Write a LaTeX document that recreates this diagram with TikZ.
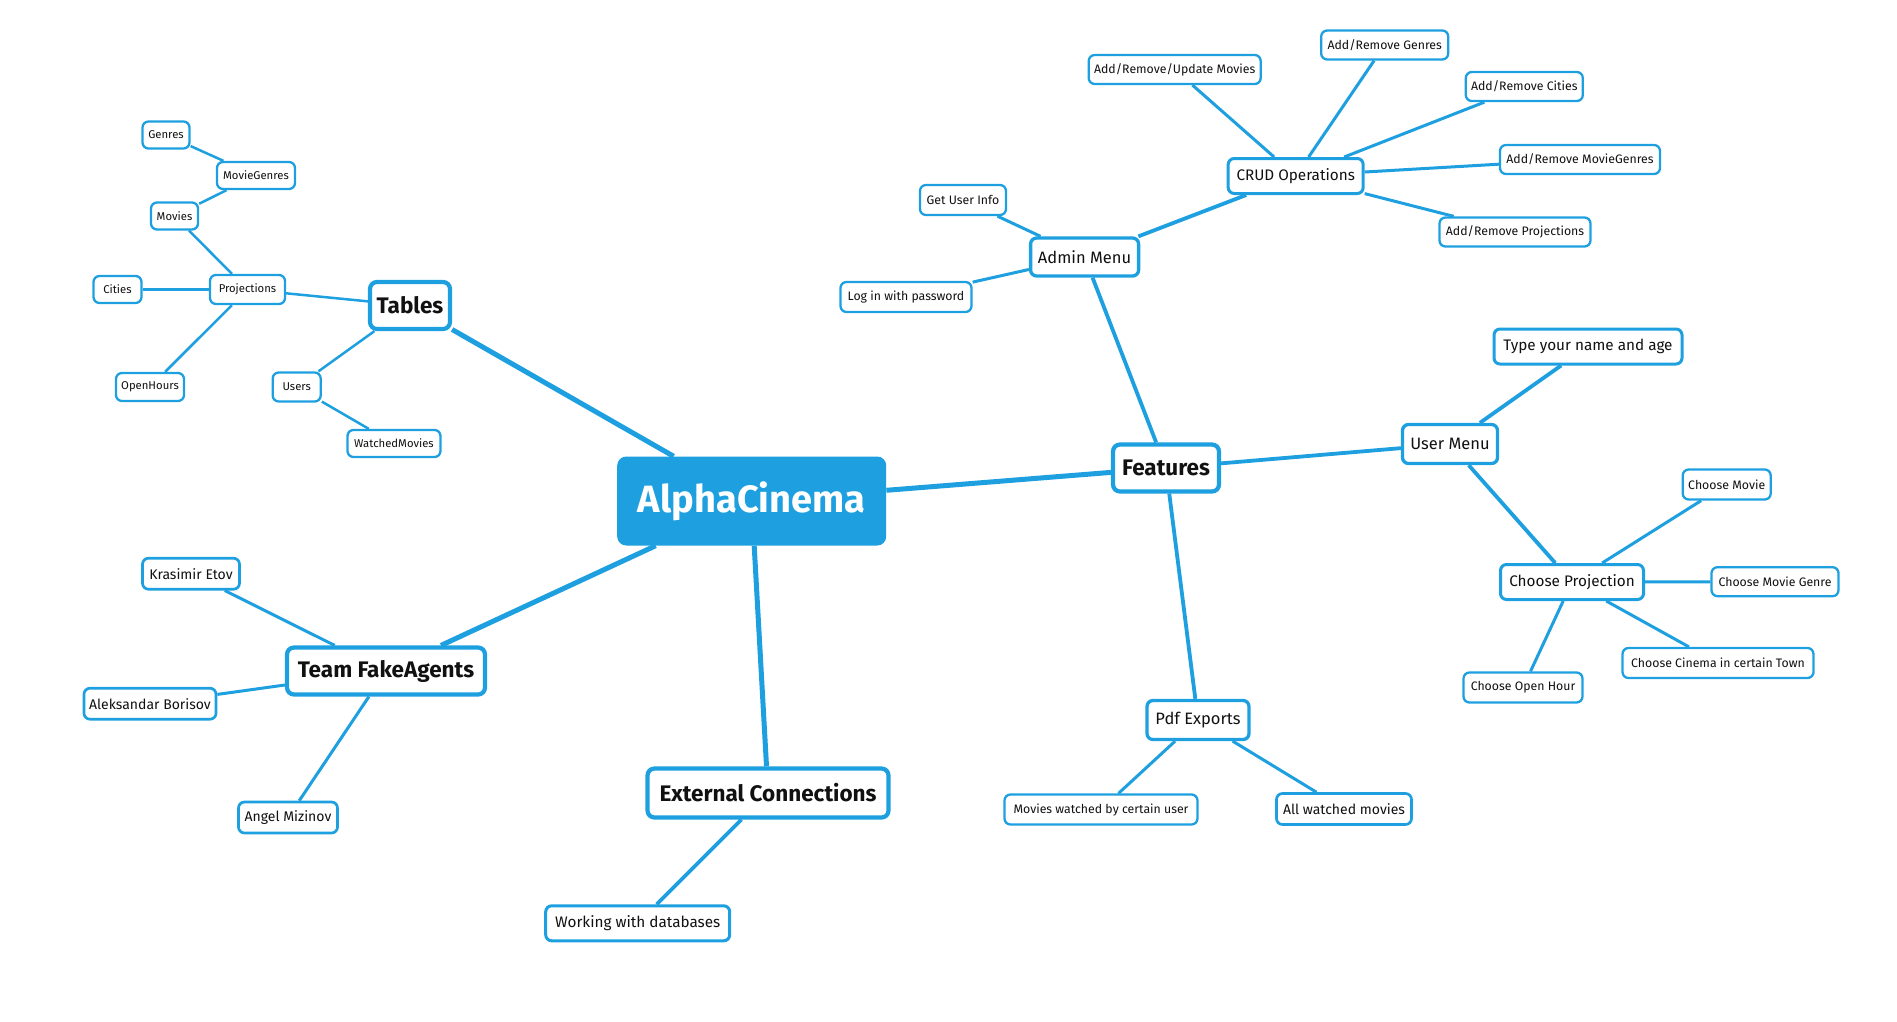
\documentclass[tikz,border=0pt]{standalone}
\usepackage{fontspec}
\setmainfont{Fira Sans}
\definecolor{mmblue}{RGB}{30,160,224}
\definecolor{mmtext}{RGB}{17,17,17}
\tikzset{
  base/.style={draw=mmblue, fill=white, text=mmtext, rounded corners=6pt, inner xsep=2pt, inner ysep=1pt, align=center},
  sz/.style 2 args={minimum width=#1pt, minimum height=#2pt},
  rootbox/.style={fill=mmblue, text=white, rounded corners=9pt, font=\bfseries\fontsize{38}{42}\selectfont, inner sep=2pt},
  lone/.style={base, line width=4.2pt, rounded corners=7pt, font=\bfseries\fontsize{22.5}{26}\selectfont},
  ltwo/.style={base, line width=3.3pt, font=\fontsize{16.5}{19}\selectfont},
  lthree/.style={base, line width=3pt, font=\fontsize{15.3}{18}\selectfont},
  lname/.style={base, line width=2.7pt, font=\fontsize{14}{17}\selectfont},
  lsmall/.style={base, line width=2.3pt, font=\fontsize{12.3}{15}\selectfont},
  ltiny/.style={base, line width=2.3pt, font=\fontsize{11.3}{14}\selectfont},
  eroot/.style={draw=mmblue, line width=5pt},
  eone/.style={draw=mmblue, line width=3.8pt},
  etwo/.style={draw=mmblue, line width=3pt},
  ethree/.style={draw=mmblue, line width=2.5pt},
}
\begin{document}
\begin{tikzpicture}[x=1pt,y=-1pt]
\useasboundingbox[fill=white] (0,0) rectangle (1897,1021);
% root
\node[rootbox, sz={269}{89}] (root) at (751.7,501) {AlphaCinema};
% level 1
\node[lone, sz={80}{47}] (tables) at (410,305.5) {Tables};
\node[lone, sz={106}{47}] (features) at (1166,468) {Features};
\node[lone, sz={198}{47}] (team) at (386,671) {Team FakeAgents};
\node[lone, sz={241}{49}] (ext) at (768,793) {External Connections};
% tables subtree
\node[ltiny, sz={47}{27}] (genres) at (166,135) {Genres};
\node[ltiny, sz={78}{27}] (moviegenres) at (256,175.5) {MovieGenres};
\node[ltiny, sz={47}{27}] (movies) at (174.5,216) {Movies};
\node[ltiny, sz={48}{27}] (cities) at (117.5,289.5) {Cities};
\node[ltiny, sz={75}{29}] (projections) at (247.5,289.5) {Projections};
\node[ltiny, sz={68}{28}] (openhours) at (150,387) {OpenHours};
\node[ltiny, sz={48}{29}] (users) at (296.7,387) {Users};
\node[ltiny, sz={93}{27}] (watched) at (394,443.5) {WatchedMovies};
% features subtree
\node[ltwo, sz={108}{38}] (admin) at (1084.6,257) {Admin Menu};
\node[ltwo, sz={95}{39}] (usermenu) at (1450,444) {User Menu};
\node[ltwo, sz={102}{39}] (pdf) at (1198,720) {Pdf Exports};
\node[lsmall, sz={86}{30}] (getuser) at (963,200) {Get User Info};
\node[lsmall, sz={131}{30}] (login) at (906,297) {Log in with password};
\node[lthree, sz={135}{35}] (crud) at (1295.7,176) {CRUD Operations};
\node[lsmall, sz={172}{29}] (arum) at (1174.7,69.5) {Add/Remove/Update Movies};
\node[lsmall, sz={127}{29}] (arg) at (1384.7,45) {Add/Remove Genres};
\node[lsmall, sz={117}{29}] (arc) at (1524.3,86.5) {Add/Remove Cities};
\node[lsmall, sz={160}{29}] (armg) at (1580,159.5) {Add/Remove MovieGenres};
\node[lsmall, sz={151}{29}] (arp) at (1515,232) {Add/Remove Projections};
\node[lthree, sz={188}{35}] (typename) at (1588,346.5) {Type your name and age};
\node[lthree, sz={143}{35}] (chproj) at (1572,582) {Choose Projection};
\node[lsmall, sz={88}{30}] (chmovie) at (1726.7,484.5) {Choose Movie};
\node[lsmall, sz={127}{29}] (chgenre) at (1775,581.7) {Choose Movie Genre};
\node[lsmall, sz={191}{30}] (chcinema) at (1718,663) {Choose Cinema in certain Town};
\node[lsmall, sz={119}{30}] (chhour) at (1523,687.5) {Choose Open Hour};
\node[lsmall, sz={193}{30}] (mwcu) at (1101,809.5) {Movies watched by certain user};
\node[lname, sz={135}{31}] (awm) at (1344,809) {All watched movies};
% team subtree
\node[lname, sz={97}{31}] (krasimir) at (191,573.7) {Krasimir Etov};
\node[lname, sz={132}{31}] (aleks) at (150,703.7) {Aleksandar Borisov};
\node[lname, sz={99}{31}] (angel) at (288,817.5) {Angel Mizinov};
% external subtree
\node[lthree, sz={184}{35}] (working) at (637.7,923.3) {Working with databases};
% connectors
\draw[eroot] (root) -- (tables);
\draw[eroot] (root) -- (features);
\draw[eroot] (root) -- (team);
\draw[eroot] (root) -- (ext);
\draw[ethree] (tables) -- (projections);
\draw[ethree] (tables) -- (users);
\draw[ethree] (projections) -- (movies);
\draw[ethree] (projections) -- (cities);
\draw[ethree] (projections) -- (openhours);
\draw[ethree] (movies) -- (moviegenres);
\draw[ethree] (moviegenres) -- (genres);
\draw[ethree] (users) -- (watched);
\draw[eone] (features) -- (admin);
\draw[eone] (features) -- (usermenu);
\draw[eone] (features) -- (pdf);
\draw[etwo] (admin) -- (getuser);
\draw[etwo] (admin) -- (login);
\draw[eone] (admin) -- (crud);
\draw[etwo] (crud) -- (arum);
\draw[etwo] (crud) -- (arg);
\draw[etwo] (crud) -- (arc);
\draw[etwo] (crud) -- (armg);
\draw[etwo] (crud) -- (arp);
\draw[eone] (usermenu) -- (typename);
\draw[eone] (usermenu) -- (chproj);
\draw[etwo] (chproj) -- (chmovie);
\draw[etwo] (chproj) -- (chgenre);
\draw[etwo] (chproj) -- (chcinema);
\draw[etwo] (chproj) -- (chhour);
\draw[etwo] (pdf) -- (mwcu);
\draw[etwo] (pdf) -- (awm);
\draw[etwo] (team) -- (krasimir);
\draw[etwo] (team) -- (aleks);
\draw[etwo] (team) -- (angel);
\draw[eone] (ext) -- (working);
\end{tikzpicture}
\end{document}
